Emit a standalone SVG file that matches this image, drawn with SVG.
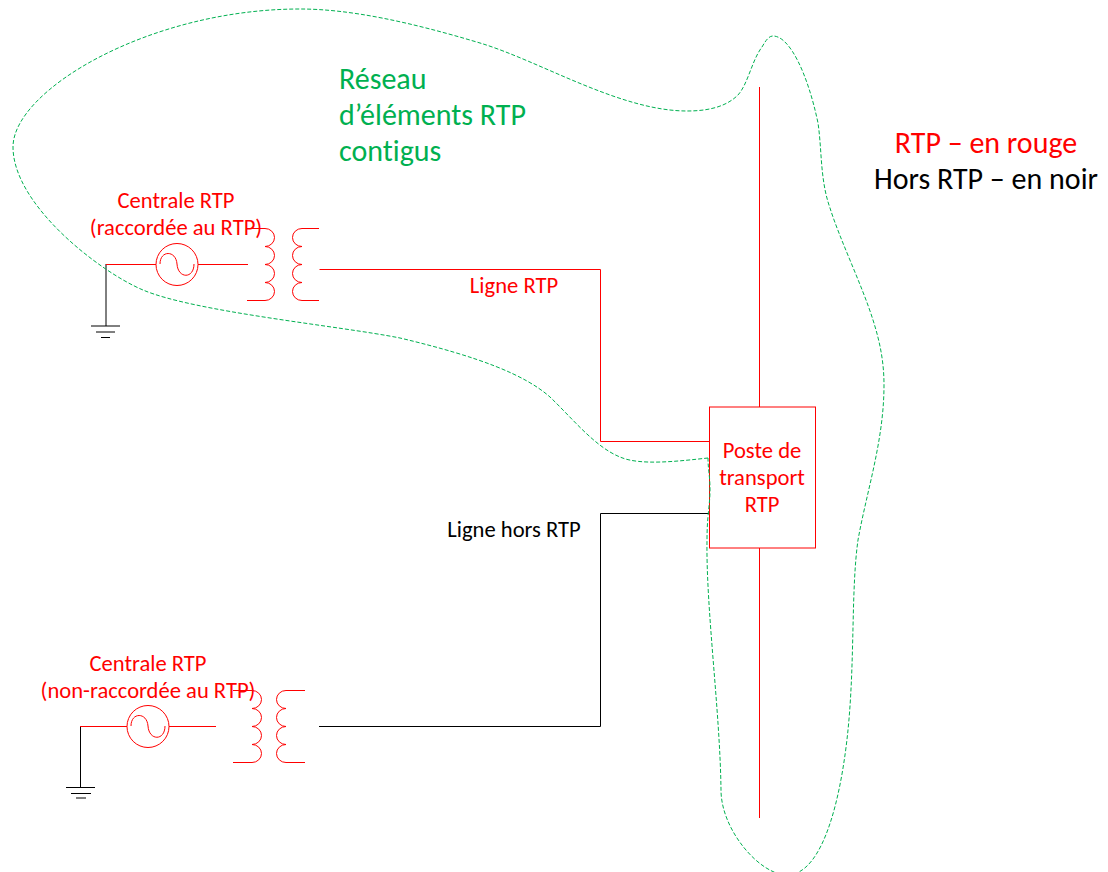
<svg xmlns="http://www.w3.org/2000/svg" width="1108" height="872" viewBox="0 0 1108 872">
<style>
text{font-family:Carlito,Lato,"Open Sans","Liberation Sans",sans-serif;text-anchor:middle;font-variant-ligatures:none}
.r{fill:#ff0000}.k{fill:#000}.g{fill:#00b050}
.lr{fill:none;stroke:#ff0000;stroke-width:1}.lk{fill:none;stroke:#000;stroke-width:1}
.s{font-size:22.600px}.l{font-size:30px}
</style>
<rect width="1108" height="872" fill="#fff"/>
<g id="connectors">
<path class="lr" d="M319.500 269.500H600.500V441.500H709"/>
<path class="lk" d="M319 726.500H600.500V513.500H709"/>
<path class="lr" d="M759.500 87V407M759.500 548V818"/>
</g>
<g id="poste"><rect x="709.500" y="407" width="106" height="141" fill="#fff" stroke="#ff0000"/>
<text class="s r" x="762" y="458">Poste de</text><text class="s r" x="762" y="485">transport</text><text class="s r" x="762" y="512">RTP</text></g>
<g id="centrale1">
<path class="lk" d="M106 264V326M91 326H120M96 332H115M101 337.500H110"/>
<path class="lr" d="M106 264.500H156M198 264.500H248"/>
<circle class="lr" cx="177" cy="264.500" r="21"/>
<path class="lr" d="M160 264C160 250 176 250 177 264C178 279 194 279 194 264"/>
<path class="lr" d="M247 228.500H265A9.500 9 0 0 1 265 246.500A9.500 9 0 0 1 265 264.500A9.500 9 0 0 1 265 282.500A9.500 9 0 0 1 265 300.500H247"/>
<path class="lr" d="M319 228.500H302A9.500 9 0 0 0 302 246.500A9.500 9 0 0 0 302 264.500A9.500 9 0 0 0 302 282.500A9.500 9 0 0 0 302 300.500H319"/>
<text class="s r" x="176" y="208">Centrale RTP</text><text class="s r" x="176" y="235">(raccordée au RTP)</text>
</g>
<g id="centrale2">
<path class="lk" d="M80.500 726V787M66 787.500H95M71 793.500H91M76 798H86"/>
<path class="lr" d="M80 726.500H127M169 726.500H216"/>
<circle class="lr" cx="148" cy="726.500" r="21"/>
<path class="lr" d="M131 726C131 712 147 712 148 726C149 741 165 741 165 726"/>
<path class="lr" d="M233 690.500H252A9.500 9 0 0 1 252 708.500A9.500 9 0 0 1 252 726.500A9.500 9 0 0 1 252 744.500A9.500 9 0 0 1 252 762.500H233"/>
<path class="lr" d="M305 690.500H286A9.500 9 0 0 0 286 708.500A9.500 9 0 0 0 286 726.500A9.500 9 0 0 0 286 744.500A9.500 9 0 0 0 286 762.500H305"/>
<text class="s r" x="148" y="671">Centrale RTP</text><text class="s r" x="148" y="698">(non-raccordée au RTP)</text>
</g>
<g id="contour"><path fill="none" stroke="#00b050" stroke-width="1" stroke-dasharray="4 2" d="M708 458C680 461 640 466 620 457C595 447 572 418 550 397C525 375 480 357 400 338C340 326 195 312 143 290C100 272 13 205 13 147C13 90 150 9 300 9C350 9 410 22 480 43C540 61 620 111 687 111C705 111 725 108 738 95C748 84 752 60 762 47C766 40 769 36 773 36C790 36 808 75 818 123C822 150 820 180 830 208C840 240 862 285 873 320C880 342 884 362 884 385C884 440 867 490 858 540C851 590 855 660 848 730C842 790 825 875 787 875C760 875 721 830 721 790C720 710 706 610 707 540C707 515 710 505 710 490C710 475 708 470 708 458Z"/></g>
<g id="labels">
<text class="s r" x="514" y="293">Ligne RTP</text>
<text class="s k" x="514" y="537">Ligne hors RTP</text>
<g class="l g"><text x="339" y="89" style="text-anchor:start">Réseau</text><text x="339" y="125" style="text-anchor:start">d’éléments RTP</text><text x="339" y="161" style="text-anchor:start">contigus</text></g>
<text class="l r" x="986" y="153">RTP – en rouge</text><text class="l k" x="986" y="189">Hors RTP – en noir</text>
</g>
</svg>
